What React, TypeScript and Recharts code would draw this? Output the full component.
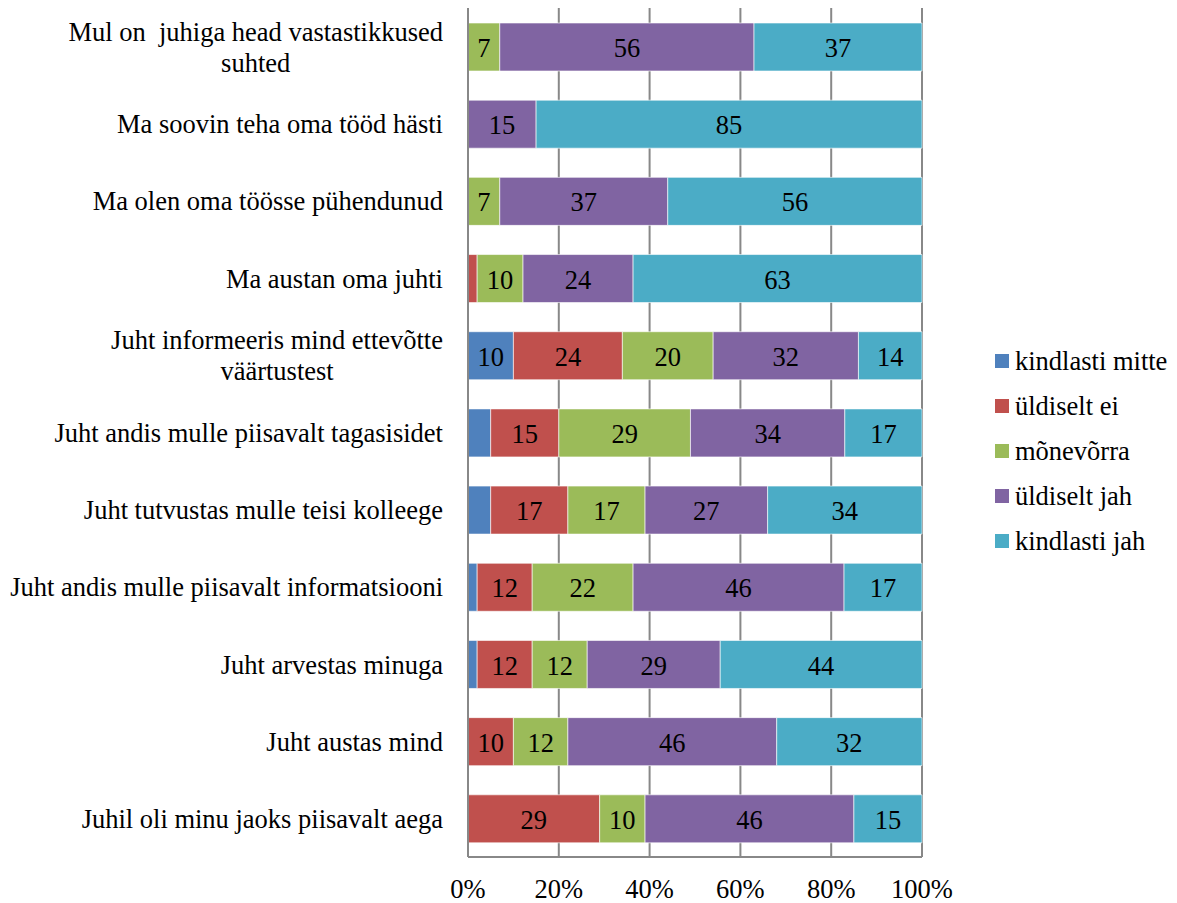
import React from 'react';
import { BarChart, Bar, XAxis, YAxis, CartesianGrid, Legend, LabelList } from 'recharts';

// Statements, top to bottom; "\n" marks where a long one wraps
const categories = [
  'Mul on  juhiga head vastastikkused\nsuhted',
  'Ma soovin teha oma tööd hästi',
  'Ma olen oma töösse pühendunud',
  'Ma austan oma juhti',
  'Juht informeeris mind ettevõtte\nväärtustest',
  'Juht andis mulle piisavalt tagasisidet',
  'Juht tutvustas mulle teisi kolleege',
  'Juht andis mulle piisavalt informatsiooni',
  'Juht arvestas minuga',
  'Juht austas mind',
  'Juhil oli minu jaoks piisavalt aega',
];

// Answer shares in percent, one array per answer option
const kindlastiMitte = [0, 0, 0, 0, 10, 5, 5, 2, 2, 0, 0];
const yldiseltEi = [0, 0, 0, 2, 24, 15, 17, 12, 12, 10, 29];
const monevorra = [7, 0, 7, 10, 20, 29, 17, 22, 12, 12, 10];
const yldiseltJah = [56, 15, 37, 24, 32, 34, 27, 46, 29, 46, 46];
const kindlastiJah = [37, 85, 56, 63, 14, 17, 34, 17, 44, 32, 15];

const xTicks = [0, 0.2, 0.4, 0.6, 0.8, 1];

const SERIES = [
  { key: 'kindlastiMitte', name: 'kindlasti mitte', color: '#4F81BD', values: kindlastiMitte },
  { key: 'yldiseltEi', name: 'üldiselt ei', color: '#C0504D', values: yldiseltEi },
  { key: 'monevorra', name: 'mõnevõrra', color: '#9BBB59', values: monevorra },
  { key: 'yldiseltJah', name: 'üldiselt jah', color: '#8064A2', values: yldiseltJah },
  { key: 'kindlastiJah', name: 'kindlasti jah', color: '#4BACC6', values: kindlastiJah },
];

const data = categories.map((label, i) => {
  const row: Record<string, string | number> = { label };
  SERIES.forEach((s) => {
    row[s.key] = s.values[i];
  });
  return row;
});

const FONT = '"Liberation Serif"';
const FONT_SIZE = 26.5;
const GRID = '#888888';

let measureCtx: CanvasRenderingContext2D | null = null;
const textWidth = (t: string) => {
  if (!measureCtx) measureCtx = document.createElement('canvas').getContext('2d');
  if (!measureCtx) return t.length * FONT_SIZE * 0.45;
  measureCtx.font = `${FONT_SIZE}px ${FONT}`;
  return measureCtx.measureText(t).width;
};

// Category labels: right aligned, wrapped lines centred on each other
const CategoryTick = ({ y, payload }: any) => {
  const lines = String(payload.value).split('\n');
  const right = 443;
  const common = { fontFamily: FONT, fontSize: FONT_SIZE, fill: '#000', style: { whiteSpace: 'pre' as const } };
  if (lines.length === 1) {
    return (
      <text x={right} y={y} dy="0.36em" textAnchor="end" {...common}>
        {lines[0]}
      </text>
    );
  }
  const widest = Math.max(...lines.map(textWidth));
  const cx = right - widest / 2;
  const lineHeight = 31;
  const top = y - (lineHeight * (lines.length - 1)) / 2;
  return (
    <text textAnchor="middle" {...common}>
      {lines.map((l, i) => (
        <tspan key={i} x={cx} y={top + i * lineHeight} dy="0.36em">
          {l}
        </tspan>
      ))}
    </text>
  );
};

// Values inside segments; the thin ones stay unlabelled
const renderValue = (props: any) => {
  const { x, y, width, height, value } = props;
  if (value == null || Number(value) < 7) return null;
  return (
    <text
      x={Number(x) + Number(width) / 2}
      y={Number(y) + Number(height) / 2}
      dy="0.38em"
      textAnchor="middle"
      fontFamily={FONT}
      fontSize={FONT_SIZE}
      fill="#000"
    >
      {value}
    </text>
  );
};

const LegendList = () => (
  <div style={{ fontFamily: FONT, fontSize: FONT_SIZE, color: '#000' }}>
    {SERIES.map((s) => (
      <div key={s.key} style={{ display: 'flex', alignItems: 'center', height: 45 }}>
        <span style={{ display: 'inline-block', width: 14, height: 14, background: s.color, marginRight: 6 }} />
        <span style={{ lineHeight: '30px', whiteSpace: 'nowrap' }}>{s.name}</span>
      </div>
    ))}
  </div>
);

const App: React.FC = () => (
  <div style={{ position: 'absolute', left: 0, top: 0, background: '#fff', fontFamily: FONT }}>
    <BarChart
      width={1177}
      height={903}
      data={data}
      layout="vertical"
      stackOffset="expand"
      barSize={48}
      margin={{ top: 8, right: 255, bottom: 0, left: 0 }}
    >
      <CartesianGrid horizontal={false} stroke={GRID} strokeWidth={2} />
      <XAxis
        type="number"
        domain={[0, 1]}
        ticks={xTicks}
        interval={0}
        tickFormatter={(v: number) => `${Math.round(v * 100)}%`}
        axisLine={{ stroke: GRID, strokeWidth: 2 }}
        tickLine={false}
        tickSize={0}
        tickMargin={22}
        height={46}
        tick={{ fill: '#000', fontSize: FONT_SIZE, fontFamily: FONT }}
      />
      <YAxis
        type="category"
        dataKey="label"
        width={468}
        interval={0}
        axisLine={{ stroke: GRID, strokeWidth: 2 }}
        tickLine={false}
        tick={<CategoryTick />}
      />
      <Legend
        layout="vertical"
        align="center"
        verticalAlign="middle"
        wrapperStyle={{ left: 995, top: 338, width: 180 }}
        content={<LegendList />}
      />
      {SERIES.map((s) => (
        <Bar
          key={s.key}
          dataKey={s.key}
          name={s.name}
          stackId="a"
          fill={s.color}
          stroke="#ffffff"
          strokeOpacity={0.6}
          strokeWidth={1}
          isAnimationActive={false}
        >
          <LabelList dataKey={s.key} content={renderValue} />
        </Bar>
      ))}
    </BarChart>
  </div>
);

export default App;
